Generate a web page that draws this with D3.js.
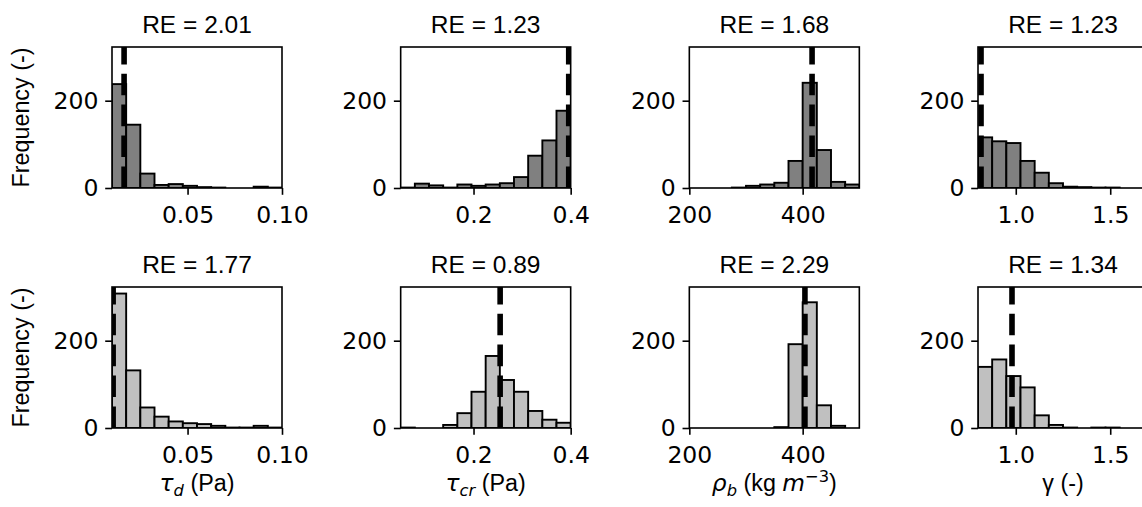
<!DOCTYPE html>
<html>
<head>
<meta charset="utf-8">
<script src="https://cdn.jsdelivr.net/npm/d3@7/dist/d3.min.js"></script>
<style>
  body { margin: 0; background: #fff; }
  svg { display: block; }
</style>
</head>
<body>
<svg id="chart" width="1142" height="507"></svg>
<script>
// bin edges per parameter (12 bins each)
const tauDEdges = [0.01, 0.0175, 0.025, 0.0325, 0.04, 0.0475, 0.055, 0.0625, 0.07, 0.0775, 0.085, 0.0925, 0.1];
const tauCrEdges = [0.05, 0.0792, 0.1083, 0.1375, 0.1667, 0.1958, 0.225, 0.2542, 0.2833, 0.3125, 0.3417, 0.3708, 0.4];
const rhoEdges = [200, 225, 250, 275, 300, 325, 350, 375, 400, 425, 450, 475, 500];
const gammaEdges = [0.8, 0.875, 0.95, 1.025, 1.1, 1.175, 1.25, 1.325, 1.4, 1.475, 1.55, 1.625, 1.7];

// counts, top row (dark bars)
const tauDCountsTop = [238, 145, 33, 7, 9, 5, 2, 1, 0, 0, 3, 1];
const tauCrCountsTop = [1, 10, 6, 1, 8, 5, 8, 11, 25, 74, 109, 177];
const rhoCountsTop = [0, 0, 0, 1, 5, 8, 12, 62, 241, 87, 14, 8];
const gammaCountsTop = [116, 107, 103, 62, 35, 11, 3, 2, 1, 1, 0, 0];

// counts, bottom row (light bars)
const tauDCountsBottom = [308, 132, 47, 26, 15, 11, 9, 5, 1, 1, 5, 1];
const tauCrCountsBottom = [1, 0, 0, 7, 34, 83, 165, 110, 83, 39, 19, 12];
const rhoCountsBottom = [0, 0, 0, 0, 0, 0, 2, 192, 288, 52, 5, 0];
const gammaCountsBottom = [140, 157, 119, 93, 29, 7, 1, 0, 1, 1, 0, 0];

// dashed reference lines
const refTop = [0.0164, 0.396, 416.6, 0.816];
const refBottom = [0.0106, 0.2548, 404, 0.98];

// panel titles
const reTop = ["2.01", "1.23", "1.68", "1.23"];
const reBottom = ["1.77", "0.89", "2.29", "1.34"];

// tick values
const tauDTicks = [0.05, 0.10];
const tauCrTicks = [0.2, 0.4];
const rhoTicks = [200, 400];
const gammaTicks = [1.0, 1.5];
const yTicks = [0, 200];
const yMax = 323;

// x labels: [text, kind]
const tauDLabel = [["τ", "math"], ["d", "sub"], [" (Pa)", "text"]];
const tauCrLabel = [["τ", "math"], ["cr", "sub"], [" (Pa)", "text"]];
const rhoLabel = [["ρ", "math"], ["b", "sub"], [" (kg ", "text"], ["m", "math"], ["−3", "sup"], [")", "text"]];
const gammaLabel = [["γ (-)", "text"]];

let panelW = 170, panelH = 141;
let colLeft = [112, 400.67, 689.33, 978];
let rowTop = [47, 287];
let fills = ["#808080", "#c0c0c0"];

var columns = [
  { edges: tauDEdges, ticks: tauDTicks, fmt: ".2f", label: tauDLabel, counts: [tauDCountsTop, tauDCountsBottom] },
  { edges: tauCrEdges, ticks: tauCrTicks, fmt: ".1f", label: tauCrLabel, counts: [tauCrCountsTop, tauCrCountsBottom] },
  { edges: rhoEdges, ticks: rhoTicks, fmt: "d", label: rhoLabel, counts: [rhoCountsTop, rhoCountsBottom] },
  { edges: gammaEdges, ticks: gammaTicks, fmt: ".1f", label: gammaLabel, counts: [gammaCountsTop, gammaCountsBottom] }
];
var refs = [refTop, refBottom];
var titles = [reTop, reBottom];

var svg = d3.select("#chart");
var yScale = d3.scaleLinear().domain([0, yMax]).range([panelH, 0]);

for (var r = 0; r < 2; r++) {
  for (var c = 0; c < 4; c++) {
    var col = columns[c];
    var edges = col.edges;
    var counts = col.counts[r];
    var g = svg.append("g").attr("transform", `translate(${colLeft[c]}, ${rowTop[r]})`);

    var xScale = d3.scaleLinear().domain([edges[0], edges[edges.length - 1]]).range([0, panelW]);

    var clipId = "clip" + r + c;
    g.append("clipPath").attr("id", clipId)
      .append("rect").attr("width", panelW).attr("height", panelH);

    var bins = counts.map((n, i) => ({ x0: edges[i], x1: edges[i + 1], n: n }));

    /**
     * histogram bars
     */
    g.append("g").attr("clip-path", `url(#${clipId})`)
      .selectAll("rect")
      .data(bins)
      .join("rect")
      .attr("x", d => xScale(d.x0))
      .attr("width", d => xScale(d.x1) - xScale(d.x0))
      .attr("y", d => yScale(d.n))
      .attr("height", d => panelH - yScale(d.n))
      .attr("fill", fills[r])
      .attr("stroke", "#000")
      .attr("stroke-width", 1.9);

    // dashed reference line, drawn from the bottom up
    g.append("line")
      .attr("clip-path", `url(#${clipId})`)
      .attr("x1", xScale(refs[r][c])).attr("x2", xScale(refs[r][c]))
      .attr("y1", panelH).attr("y2", 0)
      .attr("stroke", "#000")
      .attr("stroke-width", 5.6)
      .attr("stroke-dasharray", "21.6,9.3");

    // frame
    g.append("rect")
      .attr("width", panelW).attr("height", panelH)
      .attr("fill", "none").attr("stroke", "#000").attr("stroke-width", 1.6);

    var xAxis = g.append("g")
      .attr("transform", `translate(0, ${panelH})`)
      .call(d3.axisBottom(xScale).tickValues(col.ticks).tickFormat(d3.format(col.fmt)).tickSize(6.8).tickPadding(11.5));
    var yAxis = g.append("g")
      .call(d3.axisLeft(yScale).tickValues(yTicks).tickFormat(d3.format("d")).tickSize(6.8).tickPadding(6.8));

    [xAxis, yAxis].forEach(function(a) {
      a.select(".domain").remove();
      a.selectAll("line").attr("stroke", "#000").attr("stroke-width", 1.6);
      a.selectAll("text")
        .attr("fill", "#000")
        .style("font-family", "DejaVu Sans")
        .style("font-size", "23.5px");
    });

    g.append("text")
      .attr("x", panelW / 2)
      .attr("y", -14)
      .attr("text-anchor", "middle")
      .style("font-family", "Liberation Sans")
      .style("font-size", "24.5px")
      .text("RE = " + titles[r][c]);

    if (c == 0) {
      g.append("text")
        .attr("transform", `translate(-83, ${panelH / 2}) rotate(-90)`)
        .attr("text-anchor", "middle")
        .style("font-family", "Liberation Sans")
        .style("font-size", "23.3px")
        .text("Frequency (-)");
    }

    if (r == 1) {
      var lab = g.append("text")
        .attr("x", panelW / 2)
        .attr("y", panelH + 63)
        .attr("text-anchor", "middle")
        .style("font-family", "Liberation Sans")
        .style("font-size", "23.3px");
      var shift = 0;
      col.label.forEach(function(part) {
        var t = lab.append("tspan").text(part[0]);
        var target = 0;
        if (part[1] == "math") {
          t.style("font-family", "DejaVu Sans").style("font-style", "italic");
        } else if (part[1] == "sub") {
          t.style("font-family", "DejaVu Sans").style("font-style", "italic").style("font-size", "16.3px");
          target = 5;
        } else if (part[1] == "sup") {
          t.style("font-family", "DejaVu Sans").style("font-size", "16.3px");
          target = -9;
        }
        t.attr("dy", target - shift);
        shift = target;
      });
    }
  }
}
</script>
</body>
</html>
